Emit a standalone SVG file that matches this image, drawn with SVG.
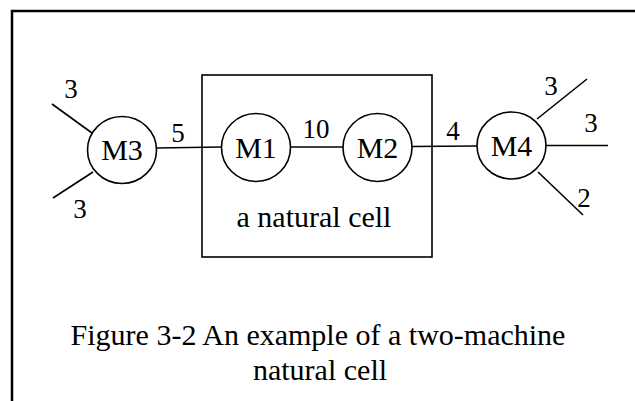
<svg xmlns="http://www.w3.org/2000/svg" width="635" height="401" viewBox="0 0 635 401">
<style>
  .frame{fill:none;stroke:#000;stroke-width:2.5}
  .box{fill:none;stroke:#000;stroke-width:1.6}
  .m{fill:#fff;stroke:#000;stroke-width:1.6}
  .c{stroke:#000;stroke-width:1.6;fill:none}
  text{font-family:"Liberation Serif","Times New Roman",serif;fill:#000}
  .lbl{font-size:30px;text-anchor:middle}
  .num{font-size:27px;text-anchor:middle}
  .cap{font-size:30px;text-anchor:middle}
</style>
<rect width="635" height="401" fill="#fff"/>
<path class="frame" d="M12,401 V11 H635"/>
<g id="cell">
  <rect class="box" x="202" y="75" width="230" height="182"/>
  <text class="lbl" x="314" y="227">a natural cell</text>
</g>
<g id="connectors">
  <line class="c" x1="52" y1="104" x2="92" y2="133"/>
  <line class="c" x1="93" y1="172" x2="53" y2="198"/>
  <line class="c" x1="156" y1="148" x2="222" y2="147"/>
  <line class="c" x1="290" y1="147" x2="343" y2="147"/>
  <line class="c" x1="412" y1="146.5" x2="477" y2="146"/>
  <line class="c" x1="537" y1="119" x2="587" y2="79"/>
  <line class="c" x1="546" y1="145.5" x2="608" y2="145.5"/>
  <line class="c" x1="538" y1="172" x2="583" y2="215"/>
  <text class="num" x="71" y="98">3</text>
  <text class="num" x="80" y="218">3</text>
  <text class="num" x="178" y="142">5</text>
  <text class="num" x="316" y="138">10</text>
  <text class="num" x="453" y="140">4</text>
  <text class="num" x="551" y="95">3</text>
  <text class="num" x="591" y="132">3</text>
  <text class="num" x="584" y="207">2</text>
</g>
<g id="M3">
  <ellipse class="m" cx="122" cy="150" rx="34.5" ry="33.5"/>
  <text class="lbl" x="122" y="160">M3</text>
</g>
<g id="M1">
  <ellipse class="m" cx="256" cy="147.5" rx="34.5" ry="34"/>
  <text class="lbl" x="256" y="158">M1</text>
</g>
<g id="M2">
  <ellipse class="m" cx="377.5" cy="147.5" rx="34.5" ry="34"/>
  <text class="lbl" x="377.5" y="158">M2</text>
</g>
<g id="M4">
  <ellipse class="m" cx="511.5" cy="145.5" rx="34.5" ry="33.5"/>
  <text class="lbl" x="511.5" y="156">M4</text>
</g>
<g id="caption">
  <text class="cap" x="318" y="345">Figure 3-2 An example of a two-machine</text>
  <text class="cap" x="320" y="380">natural cell</text>
</g>
</svg>
